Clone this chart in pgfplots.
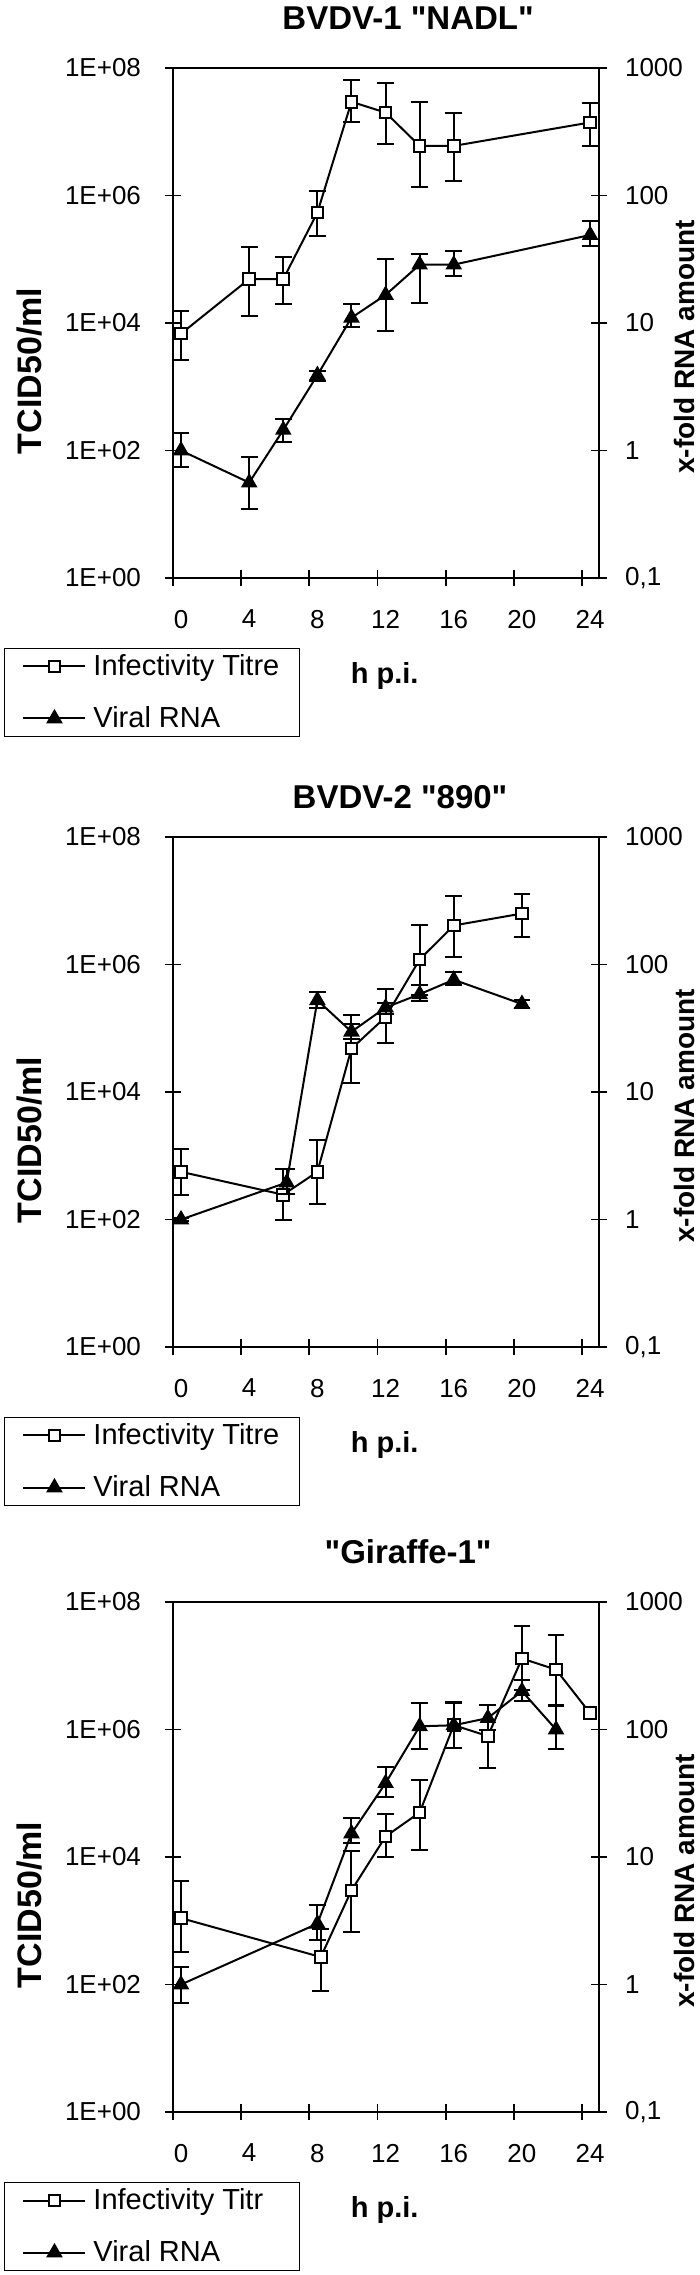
\documentclass[border=0pt]{standalone}
\usepackage{fontspec}
\setmainfont{Liberation Sans}[Ligatures=TeXOff]
\usepackage{pgfplots}
\usepackage{pgfplotstable}
\pgfplotsset{compat=1.18}

\newcommand\tfont{\fontsize{13}{15}\selectfont}
\newcommand\lfont{\fontsize{14.5}{17}\selectfont}

% ---------------- data ----------------
\pgfplotstableread{
x y hi lo
0 6.8e3 1.55e4 2.6e3
4 4.9e4 1.55e5 1.3e4
6 4.9e4 1.07e5 2.0e4
8 5.4e5 1.17e6 2.3e5
10 2.95e7 6.5e7 1.4e7
12 2.0e7 5.9e7 6.5e6
14 6.0e6 2.95e7 1.35e6
16 6.0e6 2.0e7 1.7e6
24 1.4e7 2.8e7 6.0e6
}\infA
\pgfplotstableread{
x y hi lo
0 1 1.36 0.74
4 0.56 0.89 0.35
6 1.45 1.76 1.17
8 3.9 4.2 3.5
10 11 14 9.3
12 16.6 31.6 8.6
14 28.7 35 14.3
16 28.7 36.7 23.2
24 49 63 40
}\rnaA
\pgfplotstableread{
x y hi lo
0 5.6e2 1.3e3 2.45e2
6 2.45e2 6.2e2 98
8 5.6e2 1.74e3 1.74e2
10 4.8e4 1.6e5 1.4e4
12 1.5e5 4.1e5 5.9e4
14 1.2e6 4.1e6 3.3e5
16 4.1e6 1.2e7 1.3e6
20 6.3e6 1.3e7 2.75e6
}\infB
\pgfplotstableread{
x y hi lo
0 1 1.03 0.97
6.2 1.95 2.5 1.6
8 52.5 61 46
10 29.7 34 26
12 46 50 41
14 58.5 69 52
16 76 87 69
20 49 53 46
}\rnaB
\pgfplotstableread{
x y hi lo
0 1.1e3 4.2e3 3.2e2
8.2 2.7e2 7.4e2 7.9e1
10 3.0e3 1.26e4 6.6e2
12 2.1e4 4.8e4 1.0e4
14 5.0e4 1.6e5 1.3e4
16 1.17e6 2.6e6 5.1e5
18 7.9e5 2.4e6 2.5e5
20 1.3e7 4.2e7 4.2e6
22 8.7e6 3.0e7 2.4e6
}\infCerr
\pgfplotstableread{
x y
0 1.1e3
8.2 2.7e2
10 3.0e3
12 2.1e4
14 5.0e4
16 1.17e6
18 7.9e5
20 1.3e7
22 8.7e6
24 1.8e6
}\infC
\pgfplotstableread{
x y hi lo
0 1 1.38 0.72
8 3.0 4.17 2.24
10 15.3 20.2 13.0
12 38 51 29.5
14 106 162 71
16 108 164 72
18 123 157 100
20 200 243 168
22 100 153 71
}\rnaC

\pgfplotsset{
  mycommon/.style={
    scale only axis, width=213pt, height=255pt,
    xmin=-0.47, xmax=24.52,
    tick align=center, major tick length=8pt,
    every tick/.append style={black, line width=0.9pt},
    axis line style={line width=0.9pt},
    tick label style={font=\tfont},
    xminorticks=false, yminorticks=false,
    clip=false,
  },
  myleft/.style={mycommon,
    ymin=1, ymax=1e8,
    ytick={1,1e2,1e4,1e6,1e8},
    yticklabels={1E+00,1E+02,1E+04,1E+06,1E+08},
    xtick={-0.47,3.53,7.53,11.53,15.53,19.53,23.53},
    xticklabels={0,4,8,12,16,20,24},
    xticklabel style={xshift=4pt, yshift=-8.5pt},
    yticklabel style={xshift=-8.5pt},
    xtick pos=left, ytick pos=left,
    every axis title shift=0pt,
    ylabel={TCID50/ml},
    ylabel style={font=\fontsize{17}{20}\selectfont\bfseries, at={(axis description cs:-0.336,0.406)}, anchor=center},
    xlabel={h p.i.},
    xlabel style={font=\fontsize{14.5}{17}\selectfont\bfseries, at={(axis description cs:0.497,-0.192)}, anchor=center},
  },
  myright/.style={mycommon,
    ymin=0.1, ymax=1000,
    axis y line*=right, axis x line=none,
    ytick={0.1,1,10,100,1000},
    yticklabels={{0,1},1,10,100,1000},
    yticklabel style={xshift=5.5pt},
    ylabel={x-fold RNA amount},
    ylabel style={font=\fontsize{14}{17}\selectfont\bfseries, at={(axis description cs:1.201,0.453)}, anchor=center},
    legend style={at={(axis description cs:-0.397,-0.137)}, anchor=north west,
      draw=black, line width=0.6pt, font=\lfont, inner xsep=9pt, inner ysep=2pt,
      nodes={inner sep=1pt}, row sep=12pt, column sep=2.5pt},
    legend cell align=left,
  },
  myinf/.style={black, line width=1pt, mark=square*, mark size=2.9pt, mark options={fill=white, draw=black, solid, line width=1pt}},
  myrna/.style={black, line width=1pt, mark=triangle*, mark size=3.8pt, mark options={fill=black, draw=black, solid}},
  myerr/.style={forget plot, only marks, mark=none,
    error bars/y dir=both, error bars/y explicit,
    error bars/error bar style={black, line width=1pt},
    error bars/error mark options={rotate=90, black, mark size=4.2pt, line width=1pt}},
  legend image code/.code={\draw[mark repeat=2,mark phase=2,#1] plot coordinates {(0pt,0pt) (15.5pt,0pt) (31pt,0pt)};},
}

\begin{document}
\begin{tikzpicture}
\path[use as bounding box] (0,0) rectangle (350pt,-1137.5pt);

% ================= Panel 1 =================
\begin{semilogyaxis}[myleft, at={(86.5pt,-289pt)}, anchor=south west,
  title={BVDV-1 "NADL"},
  every axis title/.style={at={(axis description cs:0.552,1.097)}, anchor=center, font=\fontsize{16.5}{20}\selectfont\bfseries}]
\addplot[myerr] table[x=x, y=y, y error plus expr=\thisrow{hi}-\thisrow{y}, y error minus expr=\thisrow{y}-\thisrow{lo}] {\infA};
\addplot[myinf] table[x=x, y=y] {\infA};
\end{semilogyaxis}
\begin{semilogyaxis}[myright, at={(86.5pt,-289pt)}, anchor=south west]
\addlegendimage{myinf}
\addlegendentry{\makebox[93pt][l]{Infectivity Titre}}
\addplot[myerr] table[x=x, y=y, y error plus expr=\thisrow{hi}-\thisrow{y}, y error minus expr=\thisrow{y}-\thisrow{lo}] {\rnaA};
\addplot[myrna] table[x=x, y=y] {\rnaA};
\addlegendentry{Viral RNA}
\end{semilogyaxis}

% ================= Panel 2 =================
\begin{semilogyaxis}[myleft, at={(86.5pt,-673.5pt)}, anchor=south west,
  title={BVDV-2 "890"},
  every axis title/.style={at={(axis description cs:0.533,1.078)}, anchor=center, font=\fontsize{16.5}{20}\selectfont\bfseries}]
\addplot[myerr] table[x=x, y=y, y error plus expr=\thisrow{hi}-\thisrow{y}, y error minus expr=\thisrow{y}-\thisrow{lo}] {\infB};
\addplot[myinf] table[x=x, y=y] {\infB};
\end{semilogyaxis}
\begin{semilogyaxis}[myright, at={(86.5pt,-673.5pt)}, anchor=south west]
\addlegendimage{myinf}
\addlegendentry{\makebox[93pt][l]{Infectivity Titre}}
\addplot[myerr] table[x=x, y=y, y error plus expr=\thisrow{hi}-\thisrow{y}, y error minus expr=\thisrow{y}-\thisrow{lo}] {\rnaB};
\addplot[myrna] table[x=x, y=y] {\rnaB};
\addlegendentry{Viral RNA}
\end{semilogyaxis}

% ================= Panel 3 =================
\begin{semilogyaxis}[myleft, at={(86.5pt,-1056pt)}, anchor=south west,
  title={"Giraffe-1"},
  every axis title/.style={at={(axis description cs:0.552,1.098)}, anchor=center, font=\fontsize{16.5}{20}\selectfont\bfseries}]
\addplot[myerr] table[x=x, y=y, y error plus expr=\thisrow{hi}-\thisrow{y}, y error minus expr=\thisrow{y}-\thisrow{lo}] {\infCerr};
\addplot[myinf] table[x=x, y=y] {\infC};
\end{semilogyaxis}
\begin{semilogyaxis}[myright, at={(86.5pt,-1056pt)}, anchor=south west]
\addlegendimage{myinf}
\addlegendentry{\makebox[93pt][l]{Infectivity Titr}}
\addplot[myerr] table[x=x, y=y, y error plus expr=\thisrow{hi}-\thisrow{y}, y error minus expr=\thisrow{y}-\thisrow{lo}] {\rnaC};
\addplot[myrna] table[x=x, y=y] {\rnaC};
\addlegendentry{Viral RNA}
\end{semilogyaxis}
\end{tikzpicture}
\end{document}
